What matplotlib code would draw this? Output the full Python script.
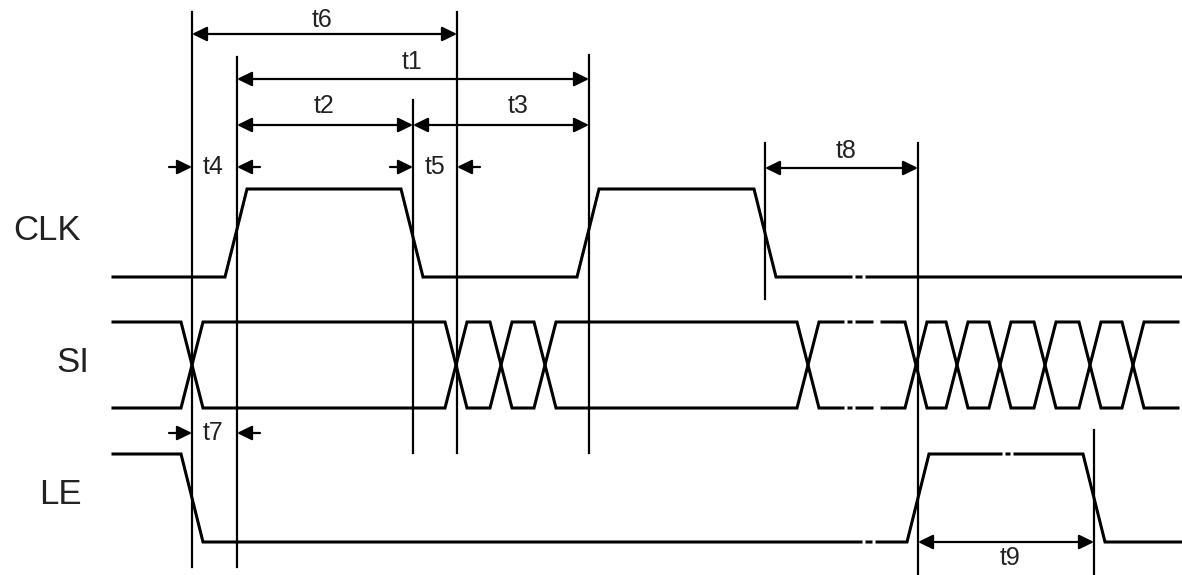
import matplotlib
matplotlib.use("Agg")
import matplotlib.pyplot as plt

# signal names and where they sit (pixel rows of low / high levels)
signals = ["CLK", "SI", "LE"]
label_pos = [(47, 231), (73, 363), (60, 495)]

clk_low, clk_high = 277, 189
clk_edges = [236, 412, 588, 765]          # centre of each clock edge, starts low
si_top, si_bot = 322, 408
si_cross = [192, 456, 501, 545, 808, 916, 957, 1000, 1045, 1090, 1133]
le_low, le_high = 542, 454
le_edges = [192, 918, 1094]               # starts high

# small breaks in the traces (x start, x end, y)
gaps = [(852, 855, clk_low), (862, 865, clk_low),
        (844, 847, si_top), (852, 855, si_top), (873, 880, si_top),
        (844, 847, si_bot), (852, 855, si_bot), (873, 880, si_bot),
        (862, 865, le_low), (872, 875, le_low),
        (1002, 1005, le_high), (1010, 1013, le_high)]

# vertical reference lines: x, top, bottom
markers = [(192, 12, 567), (237, 57, 567), (413, 100, 453), (457, 12, 453),
           (589, 55, 453), (765, 143, 299), (918, 143, 575), (1094, 430, 575)]

# dimensions between two markers: x1, x2, y, label, label x, label y
dims = [(192, 457, 34, "t6", 322, 20),
        (237, 589, 79, "t1", 412, 62),
        (237, 413, 125, "t2", 324, 106),
        (413, 589, 125, "t3", 518, 106),
        (765, 918, 168, "t8", 846, 151),
        (918, 1094, 542, "t9", 1010, 558)]
# short outside arrows: x left line, x right line, y, label, label x
outside = [(192, 237, 167, "t4", 213),
           (413, 457, 167, "t5", 435),
           (192, 237, 433, "t7", 213)]

x0, x1 = 113, 1182
hw = 11  # half width of a transition


def digital(edges, start_high, lo, hi):
    xs, ys = [x0], [hi if start_high else lo]
    level = start_high
    for e in edges:
        cur = hi if level else lo
        level = not level
        nxt = hi if level else lo
        xs += [e - hw, e + hw]
        ys += [cur, nxt]
    xs.append(x1)
    ys.append(ys[-1])
    return xs, ys


def bus(cross, top, bot):
    xa, ya = [x0], [top]
    level = True
    for c in cross:
        cur = top if level else bot
        level = not level
        nxt = top if level else bot
        xa += [c - hw, c + hw]
        ya += [cur, nxt]
    xa.append(1178)
    ya.append(ya[-1])
    yb = [top + bot - y for y in ya]
    return xa, ya, yb


fig = plt.figure(figsize=(11.82, 5.75), dpi=100)
ax = fig.add_axes([0, 0, 1, 1])
ax.set_xlim(0, 1182)
ax.set_ylim(575, 0)
ax.axis("off")

wlw = 2.2
xs, ys = digital(clk_edges, False, clk_low, clk_high)
ax.plot(xs, ys, color="k", lw=wlw, solid_joinstyle="miter")
xa, ya, yb = bus(si_cross, si_top, si_bot)
ax.plot(xa, ya, color="k", lw=wlw, solid_joinstyle="miter")
ax.plot(xa, yb, color="k", lw=wlw, solid_joinstyle="miter")
xs, ys = digital(le_edges, True, le_low, le_high)
ax.plot(xs, ys, color="k", lw=wlw, solid_joinstyle="miter")

for g0, g1, gy in gaps:
    ax.plot([g0, g1], [gy, gy], color="white", lw=3.5, zorder=3,
            solid_capstyle="butt")

for mx, mt, mb in markers:
    ax.plot([mx, mx], [mt, mb], color="k", lw=1.6, zorder=4)

arrow = dict(arrowstyle="<|-|>,head_length=0.45,head_width=0.22",
             mutation_scale=20, lw=1.6, color="k", shrinkA=0, shrinkB=0)
single = dict(arrowstyle="-|>,head_length=0.45,head_width=0.22",
              mutation_scale=20, lw=1.6, color="k", shrinkA=0, shrinkB=0)
tfont = dict(fontsize=18, family="Liberation Sans", color="#222222",
             ha="center", va="center")

for a, b, y, lab, lx, ly in dims:
    ax.annotate("", xy=(b, y), xytext=(a, y), arrowprops=arrow, zorder=5)
    ax.text(lx, ly, lab, **tfont)

for a, b, y, lab, lx in outside:
    ax.annotate("", xy=(a, y), xytext=(a - 23, y), arrowprops=single, zorder=5)
    ax.annotate("", xy=(b, y), xytext=(b + 23, y), arrowprops=single, zorder=5)
    ax.text(lx, y, lab, **tfont)

for name, (lx, ly) in zip(signals, label_pos):
    ax.text(lx, ly, name, fontsize=25, family="Liberation Sans",
            color="#222222", ha="center", va="center")

fig.savefig("out.png", dpi=100)
